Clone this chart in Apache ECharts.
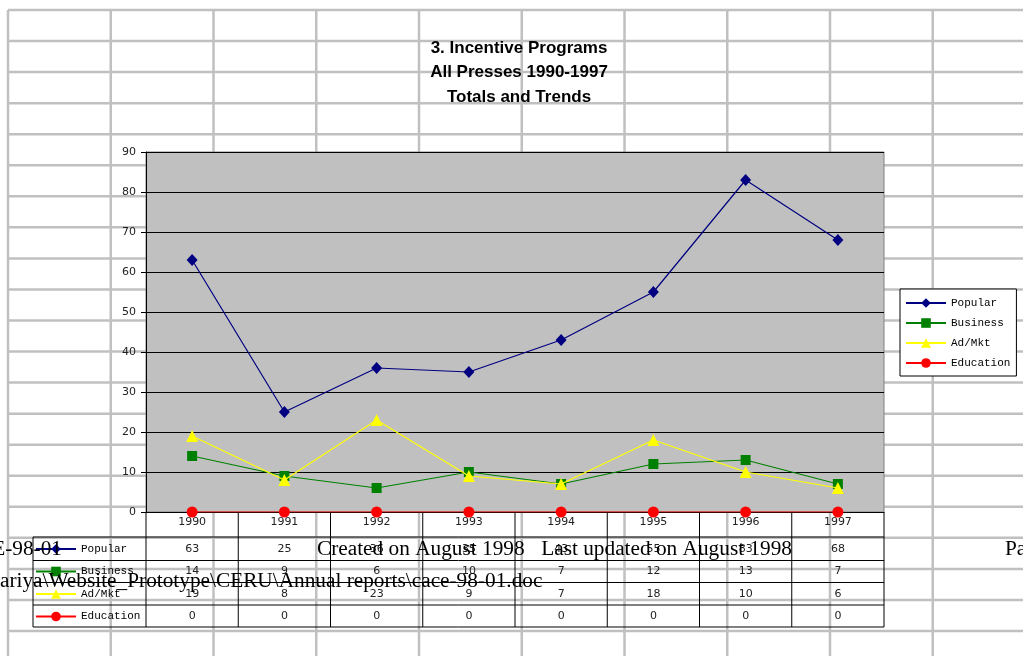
<!DOCTYPE html>
<html><head><meta charset="utf-8">
<script src="https://cdn.jsdelivr.net/npm/echarts@6/dist/echarts.min.js"></script>
<style>html,body{margin:0;padding:0;background:#fff;overflow:hidden}#c{width:1023px;height:656px}</style>
</head><body><div id="c"></div>
<script>
// ---- data ----
const years = ['1990','1991','1992','1993','1994','1995','1996','1997'];
const seriesNames = ['Popular','Business','Ad/Mkt','Education'];
const popular = [63,25,36,35,43,55,83,68];
const business = [14,9,6,10,7,12,13,7];
const adMkt = [19,8,23,9,7,18,10,6];
const education = [0,0,0,0,0,0,0,0];
const yMin = 0, yMax = 90, yStep = 10;
const titleLines = ['3. Incentive Programs','All Presses 1990-1997','Totals and Trends'];

// ---- layout / style ----
const G = {left:146, top:152, width:738, height:360};
const colors = ['#000080','#008000','#ffff00','#ff0000'];
const symbols = ['diamond','rect','triangle','circle'];
const symSizes = [[11,12],10,12,11];
const allData = [popular,business,adMkt,education];

const chart = echarts.init(document.getElementById('c'), null, {renderer:'canvas'});

const series = seriesNames.map((n,i)=>({
  name:n, type:'line', data:allData[i],
  symbol:symbols[i], symbolSize:symSizes[i], showAllSymbol:true,
  lineStyle:{color:colors[i], width:1.2}, itemStyle:{color:colors[i]},
  emphasis:{disabled:true}, animation:false, z:2+i
}));

const option = {
  animation:false,
  title:{text:titleLines.join('\n'), left:519, top:36, textAlign:'center', padding:0,
    textStyle:{fontFamily:'Liberation Sans', fontWeight:'bold', fontSize:17, color:'#000', lineHeight:24.5}},
  grid:{left:G.left, top:G.top, width:G.width, height:G.height, show:true,
    backgroundColor:'#c0c0c0', borderColor:'#808080', borderWidth:1, containLabel:false},
  xAxis:{type:'category', data:years, boundaryGap:true,
    axisLine:{lineStyle:{color:'#000', width:1}}, axisTick:{show:false},
    axisLabel:{margin:5, fontFamily:'DejaVu Sans', fontSize:11, color:'#222', interval:0}},
  yAxis:{type:'value', min:yMin, max:yMax, interval:yStep,
    axisLine:{show:true, lineStyle:{color:'#000', width:1}},
    axisTick:{show:true, length:5, lineStyle:{color:'#000'}},
    axisLabel:{margin:10, fontFamily:'DejaVu Sans', fontSize:11, color:'#222'},
    splitLine:{lineStyle:{color:'#000', width:1}}},
  legend:[
    {data:seriesNames, orient:'vertical', left:900, top:289, selectedMode:false,
     backgroundColor:'#fff', borderColor:'#000', borderWidth:1, padding:[8,6,7,5],
     itemGap:8, itemWidth:40, itemHeight:12,
     textStyle:{fontFamily:'Liberation Mono', fontSize:11, color:'#000', lineHeight:12}},
    {data:seriesNames, orient:'vertical', left:35, top:543, selectedMode:false,
     padding:0, itemGap:10.5, itemWidth:40, itemHeight:12,
     textStyle:{fontFamily:'Liberation Mono', fontSize:11, color:'#000', lineHeight:12}}
  ],
  tooltip:{show:false},
  series:series
};
chart.setOption(option);

// ---- decorations: spreadsheet grid, data table, page footer ----
const els = [];
const sheetColor = '#c0c0c0';
for (let k=0;k<=9;k++){
  const x = 8 + 102.75*k;
  els.push({type:'line', z:-10, shape:{x1:x,y1:10,x2:x,y2:656}, style:{stroke:sheetColor, lineWidth:2.5}, silent:true});
}
for (let k=0;k<=20;k++){
  const y = 10 + 31.05*k;
  els.push({type:'line', z:-10, shape:{x1:8,y1:y,x2:1023,y2:y}, style:{stroke:sheetColor, lineWidth:2.5}, silent:true});
}
// table
const tableLeft = 33, tableBottom = 627;
const rowLines = [537,560.5,582.5,605,627];
const rowCenters = [549,571.5,594,616.5];
const right = G.left + G.width;
rowLines.forEach(y=>els.push({type:'line', z:5, shape:{x1:tableLeft,y1:y,x2:right,y2:y}, style:{stroke:'#000', lineWidth:1}, silent:true}));
els.push({type:'line', z:5, shape:{x1:tableLeft,y1:rowLines[0],x2:tableLeft,y2:tableBottom}, style:{stroke:'#000', lineWidth:1}, silent:true});
for (let k=0;k<=years.length;k++){
  const x = G.left + k*G.width/years.length;
  els.push({type:'line', z:5, shape:{x1:x,y1:G.top+G.height,x2:x,y2:tableBottom}, style:{stroke:'#000', lineWidth:1}, silent:true});
}
years.forEach((yr,j)=>{
  const x = chart.convertToPixel({xAxisIndex:0}, j);
  allData.forEach((arr,i)=>{
    els.push({type:'text', z:6, x:x, y:rowCenters[i], silent:true,
      style:{text:String(arr[j]), fill:'#222', font:'11px "DejaVu Sans"', align:'center', verticalAlign:'middle'}});
  });
});
// page footer text showing through
const serif = '21.3px "Liberation Serif"';
const footer = [
  {t:'E-98-01', x:62, y:549, a:'right'},
  {t:'Created on August 1998', x:317, y:549, a:'left'},
  {t:'Last updated on August 1998', x:792, y:549, a:'right'},
  {t:'Pa', x:1005, y:549, a:'left'},
  {t:'ariya\\Website_Prototype\\CERU\\Annual reports\\cace-98-01.doc', x:0, y:581, a:'left'}
];
footer.forEach(f=>els.push({type:'text', z:50, x:f.x, y:f.y, silent:true,
  style:{text:f.t, fill:'#000', font:serif, align:f.a, verticalAlign:'middle'}}));

chart.setOption({graphic:{elements:els}});
</script></body></html>
